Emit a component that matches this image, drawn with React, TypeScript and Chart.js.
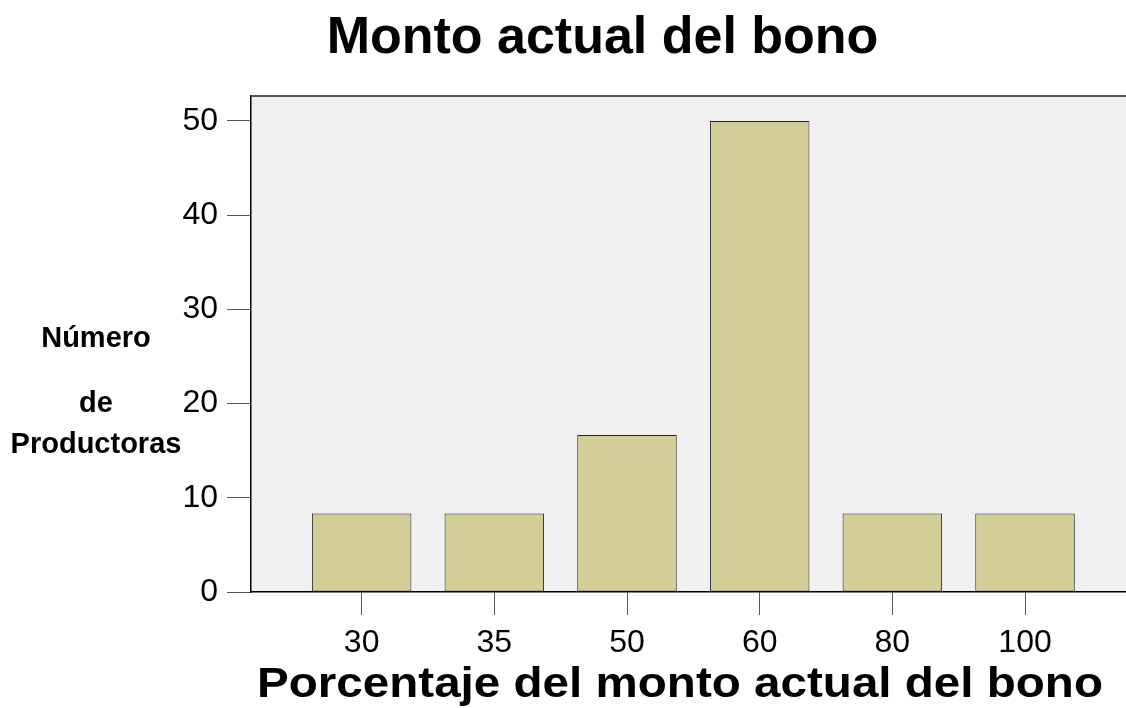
import React, { useEffect, useRef } from "react";
import { Chart, registerables } from "chart.js";

Chart.register(...registerables);

const chartTitle = "Monto actual del bono";
const xTitle = "Porcentaje del monto actual del bono";
const yTitleLines = ["Número", "de", "Productoras"];
const categories = ["30", "35", "50", "60", "80", "100"];
const values = [8.33, 8.33, 16.67, 50, 8.33, 8.33];
const yTicks = [0, 10, 20, 30, 40, 50];

const FONT = "'Liberation Sans', Arial, Helvetica, sans-serif";

const decorPlugin = {
  id: "decor",
  beforeDraw(chart: any) {
    const { ctx, chartArea } = chart;
    ctx.save();
    ctx.fillStyle = "rgb(240,240,240)";
    ctx.fillRect(chartArea.left, chartArea.top, chartArea.right - chartArea.left, chartArea.bottom - chartArea.top);
    ctx.restore();
  },
  afterDraw(chart: any) {
    const { ctx, chartArea } = chart;
    ctx.save();
    ctx.strokeStyle = "#222";
    ctx.lineWidth = 1.5;
    ctx.beginPath();
    ctx.moveTo(chartArea.left, chartArea.top);
    ctx.lineTo(chartArea.right, chartArea.top);
    ctx.stroke();

    ctx.fillStyle = "#000";
    ctx.font = `bold 52px ${FONT}`;
    ctx.textAlign = "center";
    ctx.textBaseline = "alphabetic";
    ctx.fillText(chartTitle, 602.5, 53);

    ctx.font = `bold 42px ${FONT}`;
    const w = ctx.measureText(xTitle).width;
    const sx = 846 / w;
    ctx.save();
    ctx.translate(680, 697);
    ctx.scale(sx, 1);
    ctx.fillText(xTitle, 0, 0);
    ctx.restore();

    ctx.font = `bold 29px ${FONT}`;
    ctx.fillText(yTitleLines[0], 96, 347);
    ctx.fillText(yTitleLines[1], 96, 412);
    ctx.fillText(yTitleLines[2], 96, 453);
    ctx.restore();
  },
};

export default function App() {
  const ref = useRef<HTMLCanvasElement | null>(null);
  useEffect(() => {
    if (!ref.current) return;
    const chart = new Chart(ref.current, {
      type: "bar",
      data: {
        datasets: [
          {
            data: values.map((v, i) => ({ x: i, y: v })),
            backgroundColor: "rgb(211,206,152)",
            borderColor: "#222",
            borderWidth: 1,
            borderSkipped: false,
            barPercentage: 0.75,
            categoryPercentage: 1,
          },
        ],
      },
      options: {
        responsive: false,
        animation: false,
        devicePixelRatio: 1,
        layout: { padding: { left: 0, top: 96, right: 0, bottom: 0 } },
        plugins: {
          legend: { display: false },
          title: { display: false },
          tooltip: { enabled: false },
        },
        scales: {
          x: {
            type: "linear",
            offset: false,
            min: -0.834,
            max: 5.761,
            afterBuildTicks: (s: any) => {
              s.ticks = categories.map((_, i) => ({ value: i }));
            },
            afterFit: (s: any) => {
              s.height = 116;
            },
            ticks: {
              autoSkip: false,
              maxRotation: 0,
              minRotation: 0,
              padding: 9,
              color: "#000",
              font: { family: FONT, size: 32 },
              callback: (v: any) => categories[v as number] ?? "",
            },
            grid: {
              offset: false,
              drawOnChartArea: false,
              drawTicks: true,
              tickLength: 23,
              color: "#555",
            },
            border: { display: true, color: "#000", width: 1.5 },
          },
          y: {
            min: 0,
            max: 52.65,
            afterBuildTicks: (s: any) => {
              s.ticks = yTicks.map((v) => ({ value: v }));
            },
            afterFit: (s: any) => {
              s.width = 251;
            },
            ticks: {
              padding: 9,
              color: "#000",
              font: { family: FONT, size: 32 },
            },
            grid: {
              drawOnChartArea: false,
              drawTicks: true,
              tickLength: 24,
              color: "#555",
            },
            border: { display: true, color: "#000", width: 1.5 },
          },
        },
      } as any,
      plugins: [decorPlugin],
    });
    return () => chart.destroy();
  }, []);
  return (
    <div style={{ position: "absolute", left: 0, top: 0, width: 1126, height: 708, background: "#fff" }}>
      <canvas ref={ref} width={1126} height={708} style={{ width: 1126, height: 708, display: "block" }} />
    </div>
  );
}
